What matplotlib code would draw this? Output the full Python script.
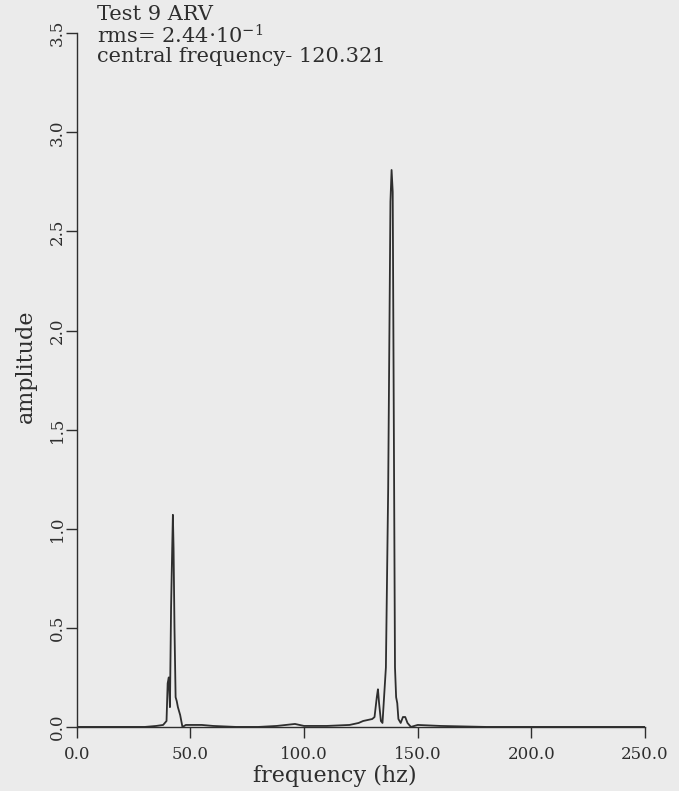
import matplotlib
matplotlib.use("Agg")
import matplotlib.pyplot as plt

# spectrum (frequency in hz, amplitude)
freq = [0.0, 10.0, 20.0, 30.0, 35.0, 38.0, 39.5, 40.0, 40.5, 41.0, 41.5, 42.0,
        42.3, 42.6, 43.0, 43.5, 44.0, 44.5, 45.5, 46.5, 48.0, 50.0, 55.0, 60.0,
        70.0, 80.0, 88.0, 92.0, 96.0, 98.0, 100.0, 110.0, 120.0, 124.0, 126.0,
        128.0, 130.0, 131.0, 132.0, 132.5, 133.0, 133.8, 134.5, 136.0, 137.0,
        138.0, 138.5, 139.0, 139.5, 140.0, 140.5, 141.0, 141.5, 142.5, 143.5,
        144.5, 145.5, 147.0, 150.0, 160.0, 180.0, 200.0, 230.0, 250.0]
amp = [0.0, 0.0, 0.0, 0.0, 0.005, 0.01, 0.03, 0.22, 0.25, 0.10, 0.60, 0.90,
       1.07, 0.90, 0.50, 0.15, 0.13, 0.10, 0.06, 0.0, 0.01, 0.01, 0.01, 0.005,
       0.0, 0.0, 0.005, 0.01, 0.015, 0.01, 0.005, 0.005, 0.01, 0.02, 0.03,
       0.035, 0.04, 0.05, 0.15, 0.19, 0.12, 0.03, 0.02, 0.30, 1.20,
       2.65, 2.81, 2.70, 1.50, 0.30, 0.15, 0.12, 0.04, 0.02, 0.05,
       0.05, 0.02, 0.0, 0.01, 0.005, 0.0, 0.0, 0.0, 0.0]

xticks = [0.0, 50.0, 100.0, 150.0, 200.0, 250.0]
yticks = [0.0, 0.5, 1.0, 1.5, 2.0, 2.5, 3.0, 3.5]

header = ["Test 9 ARV", "rms= 2.44$\\cdot$10$^{-1}$", "central frequency- 120.321"]

plt.rcParams['font.family'] = 'DejaVu Serif'
plt.rcParams['mathtext.fontset'] = 'dejavuserif'

bg = '#ebebeb'
ink = '#2e2e2e'

fig = plt.figure(figsize=(6.79, 7.91), dpi=100, facecolor=bg)
ax = fig.add_axes([0.113, 0.081, 0.837, 0.877], facecolor=bg)

ax.plot(freq, amp, color=ink, linewidth=1.3)

ax.set_xlim(0, 250)
ax.set_ylim(0, 3.5)
ax.set_xticks(xticks)
ax.set_xticklabels([f"{t:.1f}" for t in xticks], fontsize=12, color=ink)
ax.set_yticks(yticks)
ax.set_yticklabels([f"{t:.1f}" for t in yticks], fontsize=12, color=ink,
                   rotation=90, va='center')

for s in ['top', 'right']:
    ax.spines[s].set_visible(False)
for s in ['left', 'bottom']:
    ax.spines[s].set_color(ink)
    ax.spines[s].set_linewidth(1.0)
ax.tick_params(colors=ink, length=8, width=1.0)
ax.tick_params(axis='y', pad=0)
ax.tick_params(axis='x', pad=6)

ax.set_xlabel("frequency (hz)", fontsize=16, color=ink)
ax.set_ylabel("amplitude", fontsize=16, color=ink)
ax.xaxis.set_label_coords(0.454, -0.055)
ax.yaxis.set_label_coords(-0.070, 0.52)

for i, line in enumerate(header):
    fig.text(0.143, 0.982 - i * 0.027, line, fontsize=15, color=ink, va='center')

fig.savefig("out.png", dpi=100, facecolor=bg)
